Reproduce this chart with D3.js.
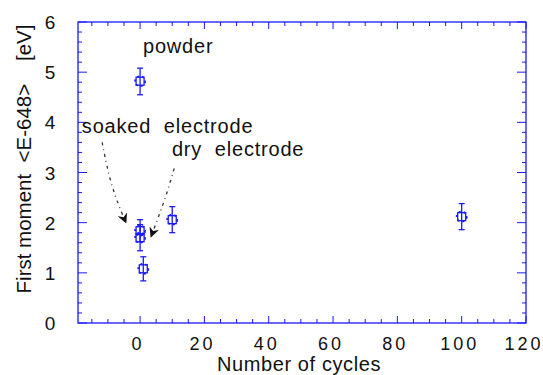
<!DOCTYPE html>
<html><head><meta charset="utf-8">
<script src="https://cdn.jsdelivr.net/npm/d3@7"></script>
<style>
body{margin:0;background:#fff;}
text{font-family:"Liberation Sans",Arial,sans-serif;fill:#111;}
</style></head>
<body><svg id="c" width="543" height="375"></svg>
<script>
const cycles  = [0, 0, 0, 1, 10, 100];
const moments = [4.82, 1.84, 1.70, 1.08, 2.06, 2.12];
const errLo   = [4.55, 1.62, 1.44, 0.84, 1.80, 1.86];
const errHi   = [5.08, 2.06, 1.96, 1.32, 2.32, 2.38];
const xTicks = [0, 20, 40, 60, 80, 100, 120];
const yTicks = [0, 1, 2, 3, 4, 5, 6];
const labels = [
  {text:"powder", x:0.9, y:5.38},
  {text:"soaked  electrode", x:-18.1, y:3.78},
  {text:"dry  electrode", x:9.9, y:3.32}
];
const arrows = [
  {pts:[[-11.8,3.6],[-9.0,2.7],[-4.4,2.0]]},
  {pts:[[10.6,3.08],[8.0,2.5],[3.4,1.72]]}
];

const svg = d3.select("#c");
const L=78, R=526, T=22, B=323;
const x = d3.scaleLinear().domain([-19.3,120]).range([L,R]);
const y = d3.scaleLinear().domain([0,6]).range([B,T]);
const blue="#1a1aff";

svg.append("defs").append("marker").attr("id","ah").attr("viewBox","0 0 10 10")
  .attr("refX",9).attr("refY",5).attr("markerWidth",10).attr("markerHeight",10)
  .attr("markerUnits","userSpaceOnUse").attr("orient","auto")
  .append("path").attr("d","M0,0 L10,5 L0,10 L3,5 Z").attr("fill","#111");

// frame
svg.append("rect").attr("x",L).attr("y",T).attr("width",R-L).attr("height",B-T)
  .attr("fill","none").attr("stroke",blue).attr("stroke-width",1.3);

// ticks
const xMin = d3.range(-15,121,5), yMin = d3.range(0,6.01,0.2);
xMin.forEach(v=>{
  const maj = v%20===0, len = maj?7:4;
  svg.append("line").attr("x1",x(v)).attr("x2",x(v)).attr("y1",B).attr("y2",B-len).attr("stroke",blue);
  svg.append("line").attr("x1",x(v)).attr("x2",x(v)).attr("y1",T).attr("y2",T+len).attr("stroke",blue);
});
yMin.forEach(v=>{
  const maj = Math.abs(v-Math.round(v))<1e-6, len = maj?9:4;
  svg.append("line").attr("y1",y(v)).attr("y2",y(v)).attr("x1",L).attr("x2",L+len).attr("stroke",blue);
  svg.append("line").attr("y1",y(v)).attr("y2",y(v)).attr("x1",R).attr("x2",R-len).attr("stroke",blue);
});

// tick labels
svg.selectAll(".xl").data(xTicks).enter().append("text")
  .attr("x",d=>x(d)-2).attr("y",350).attr("text-anchor","middle")
  .attr("font-size",18).attr("letter-spacing","3px").text(d=>d);
svg.selectAll(".yl").data(yTicks).enter().append("text")
  .attr("x",50).attr("y",d=>y(d)+7).attr("text-anchor","middle")
  .attr("font-size",19).text(d=>d);

// axis titles
svg.append("text").attr("x",299).attr("y",371).attr("text-anchor","middle")
  .attr("font-size",20).attr("letter-spacing","0.6px").text("Number of cycles");
svg.append("text").attr("transform","translate(31,159) rotate(-90)").attr("text-anchor","middle")
  .attr("font-size",20.5).attr("xml:space","preserve").text("First moment  <E-648>    [eV]");

// error bars
const data = cycles.map((c,i)=>({c,m:moments[i],lo:errLo[i],hi:errHi[i]}));
const g = svg.append("g");
data.forEach(d=>{
  const cx = x(d.c);
  g.append("line").attr("x1",cx).attr("x2",cx).attr("y1",y(d.lo)).attr("y2",y(d.hi)).attr("stroke",blue).attr("stroke-width",1.3);
  [d.lo,d.hi].forEach(v=>g.append("line").attr("x1",cx-3).attr("x2",cx+3).attr("y1",y(v)).attr("y2",y(v)).attr("stroke",blue).attr("stroke-width",1.3));
  g.append("rect").attr("x",cx-4).attr("y",y(d.m)-4).attr("width",8).attr("height",8)
    .attr("fill","none").attr("stroke",blue).attr("stroke-width",1.3);
  g.append("circle").attr("cx",cx).attr("cy",y(d.m)).attr("r",5).attr("fill","none")
    .attr("stroke",blue).attr("stroke-width",1.8).attr("stroke-dasharray","2,3");
});

// annotations
labels.forEach(l=>svg.append("text").attr("x",x(l.x)).attr("y",y(l.y)).attr("font-size",20)
  .attr("letter-spacing","0.8px").attr("xml:space","preserve").text(l.text));
const line = d3.line().x(p=>x(p[0])).y(p=>y(p[1])).curve(d3.curveBasis);
arrows.forEach(a=>svg.append("path").attr("d",line(a.pts)).attr("fill","none")
  .attr("stroke","#333").attr("stroke-width",1.3).attr("stroke-dasharray","3,4,1,4")
  .attr("marker-end","url(#ah)"));
</script></body></html>
